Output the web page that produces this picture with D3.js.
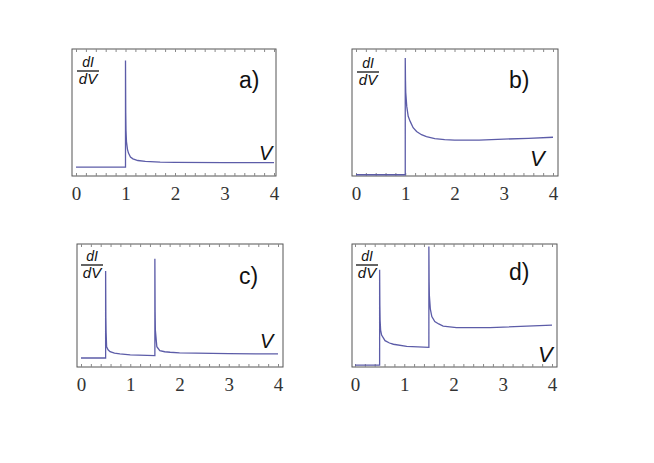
<!DOCTYPE html>
<html>
<head>
<meta charset="utf-8">
<script src="https://cdn.jsdelivr.net/npm/d3@7"></script>
<style>
  body { margin: 0; background: #fff; }
  svg { display: block; }
</style>
</head>
<body>
<div id="chart"></div>
<script>
// tick labels
const xTicks = [0, 1, 2, 3, 4];

// panel a) single gap at V=1
const aV   = [0, 1, 1, 1.005, 1.01, 1.02, 1.04, 1.06, 1.1, 1.15, 1.25, 1.4, 1.7, 2, 3, 4];
const aVal = [0.07, 0.07, 0.91, 0.5, 0.36, 0.27, 0.21, 0.18, 0.15, 0.135, 0.122, 0.115, 0.11, 0.108, 0.106, 0.105];

// panel b) gap at V=1, rising background
const bV   = [0, 1, 1, 1.005, 1.01, 1.03, 1.06, 1.1, 1.16, 1.23, 1.33, 1.43, 1.6, 1.8, 2, 2.5, 3, 3.5, 4];
const bVal = [0.01, 0.01, 0.93, 0.75, 0.66, 0.55, 0.47, 0.43, 0.38, 0.35, 0.325, 0.31, 0.295, 0.287, 0.283, 0.283, 0.29, 0.297, 0.305];

// panel c) two peaks at 0.5 and 1.5
const cV   = [0, 0.5, 0.5, 0.505, 0.51, 0.52, 0.55, 0.59, 0.68, 0.79, 1.0, 1.5, 1.5, 1.505, 1.51, 1.54, 1.6, 1.7, 1.81, 2, 3, 4];
const cVal = [0.073, 0.073, 0.78, 0.4, 0.28, 0.165, 0.14, 0.125, 0.112, 0.106, 0.098, 0.092, 0.88, 0.45, 0.3, 0.165, 0.133, 0.124, 0.12, 0.115, 0.108, 0.106];

// panel d) two peaks, higher background
const dV   = [0, 0.5, 0.5, 0.505, 0.51, 0.52, 0.54, 0.61, 0.7, 0.78, 1.05, 1.5, 1.5, 1.505, 1.51, 1.53, 1.56, 1.62, 1.7, 1.79, 2.06, 2.74, 4];
const dVal = [0.016, 0.016, 0.79, 0.5, 0.38, 0.3, 0.26, 0.214, 0.195, 0.185, 0.168, 0.16, 0.98, 0.7, 0.58, 0.47, 0.41, 0.37, 0.35, 0.333, 0.32, 0.32, 0.34];

const panels = [
  { label: "a)", V: aV, val: aVal, frame: [72, 49, 276, 176], x0: 76, x4: 274,
    tag: [239, 88, 23], vLab: [259, 160, 20], frac: [77, 71] },
  { label: "b)", V: bV, val: bVal, frame: [352, 49, 558, 176], x0: 356, x4: 553,
    tag: [509, 88, 23], vLab: [530, 166, 22], frac: [357, 72] },
  { label: "c)", V: cV, val: cVal, frame: [77, 244, 283, 367], x0: 81, x4: 278,
    tag: [239, 284, 23], vLab: [260, 348, 20], frac: [81, 265] },
  { label: "d)", V: dV, val: dVal, frame: [352, 244, 557, 367], x0: 355, x4: 552,
    tag: [509, 280, 23], vLab: [538, 362, 22], frac: [356, 265] }
];

const svg = d3.select("#chart").append("svg")
  .attr("width", 654).attr("height", 463);

panels.forEach(p => {
  const [l, t, r, b] = p.frame;
  const x = d3.scaleLinear().domain([0, 4]).range([p.x0, p.x4]);
  const y = d3.scaleLinear().domain([0, 1]).range([b, t]);
  const g = svg.append("g");

  // frame
  g.append("rect")
    .attr("x", l).attr("y", t).attr("width", r - l).attr("height", b - t)
    .attr("fill", "none").attr("stroke", "#555").attr("stroke-width", 1);

  // minor ticks (0.2) on bottom and top, pointing inward
  const minor = d3.range(0, 4.001, 0.2);
  g.append("g").attr("transform", `translate(0,${b})`)
    .call(d3.axisBottom(x).tickValues(minor).tickSize(-3).tickFormat(""))
    .call(s => s.select(".domain").remove())
    .call(s => s.selectAll("line").attr("stroke", "#888"));
  g.append("g").attr("transform", `translate(0,${t})`)
    .call(d3.axisTop(x).tickValues(minor).tickSize(-3).tickFormat(""))
    .call(s => s.select(".domain").remove())
    .call(s => s.selectAll("line").attr("stroke", "#888"));

  // tick labels
  g.append("g").attr("transform", `translate(0,${b})`)
    .call(d3.axisBottom(x).tickValues(xTicks).tickSize(0).tickPadding(11).tickFormat(d3.format("d")))
    .call(s => s.select(".domain").remove())
    .call(s => s.selectAll("text")
      .attr("font-family", "Liberation Serif, Times New Roman, serif")
      .attr("font-size", 19).attr("fill", "#333"));

  // curve
  const line = d3.line().x((d, i) => x(p.V[i])).y(d => y(d));
  g.append("path").datum(p.val)
    .attr("d", line)
    .attr("fill", "none").attr("stroke", "#5c5ca8").attr("stroke-width", 1.3);

  // dI/dV fraction
  const [fx, fy] = p.frac;
  g.append("text").attr("x", fx + 11).attr("y", fy - 4).attr("text-anchor", "middle")
    .attr("font-family", "Liberation Sans, Arial, sans-serif").attr("font-style", "italic")
    .attr("font-size", 14).attr("fill", "#111").text("dI");
  g.append("line").attr("x1", fx).attr("x2", fx + 22).attr("y1", fy).attr("y2", fy)
    .attr("stroke", "#111").attr("stroke-width", 1.3);
  g.append("text").attr("x", fx + 11).attr("y", fy + 13).attr("text-anchor", "middle")
    .attr("font-family", "Liberation Sans, Arial, sans-serif").attr("font-style", "italic")
    .attr("font-size", 15).attr("fill", "#111").text("dV");

  // panel tag
  g.append("text").attr("x", p.tag[0]).attr("y", p.tag[1])
    .attr("font-family", "Liberation Sans, Arial, sans-serif")
    .attr("font-size", p.tag[2]).attr("fill", "#111").text(p.label);

  // V label
  g.append("text").attr("x", p.vLab[0]).attr("y", p.vLab[1])
    .attr("font-family", "Liberation Sans, Arial, sans-serif").attr("font-style", "italic")
    .attr("font-size", p.vLab[2]).attr("fill", "#111").text("V");
});
</script>
</body>
</html>
